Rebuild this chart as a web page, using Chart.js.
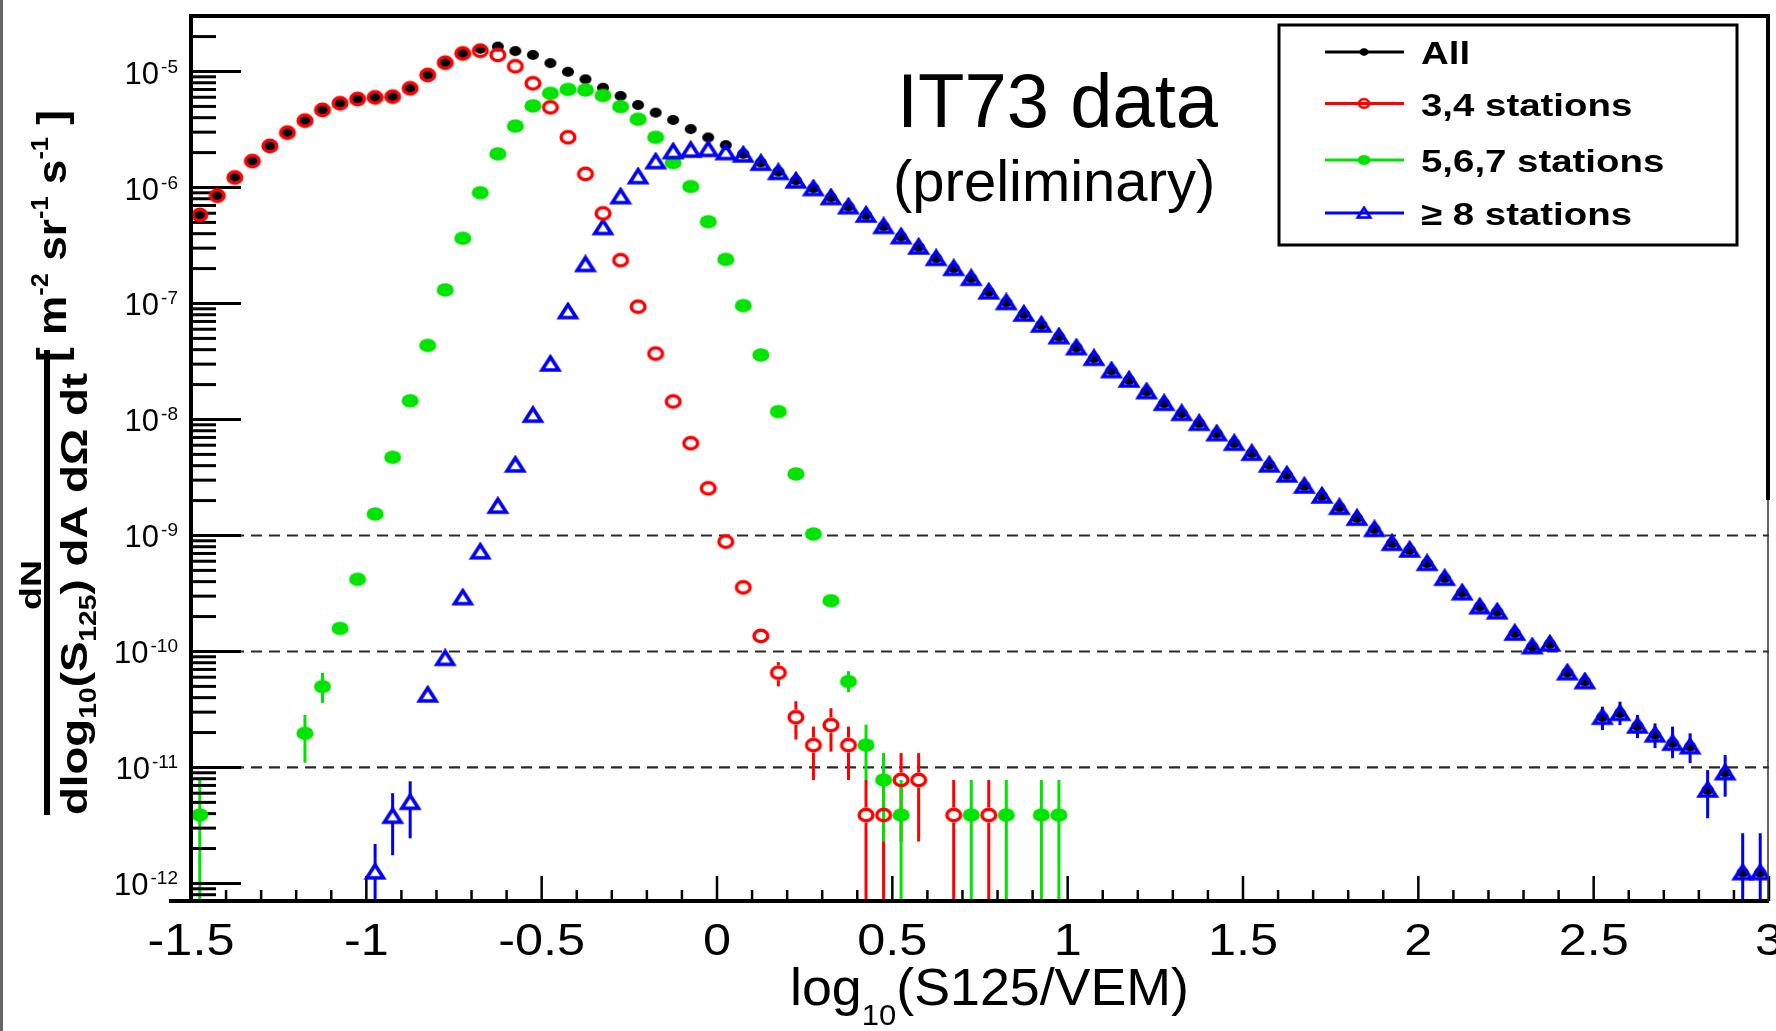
<!DOCTYPE html>
<html><head><meta charset="utf-8">
<script src="https://cdn.jsdelivr.net/npm/chart.js@4.4.0/dist/chart.umd.min.js"></script>
<style>html,body{margin:0;padding:0;background:#fff;}canvas{display:block;}</style>
</head><body>
<canvas id="c" width="1776" height="1031"></canvas>
<script>
// ---------- DATA ----------
const binCenters = [
-1.475,-1.425,-1.375,-1.325,-1.275,-1.225,-1.175,-1.125,-1.075,-1.025,
-0.975,-0.925,-0.875,-0.825,-0.775,-0.725,-0.675,-0.625,-0.575,-0.525,
-0.475,-0.425,-0.375,-0.325,-0.275,-0.225,-0.175,-0.125,-0.075,-0.025,
0.025,0.075,0.125,0.175,0.225,0.275,0.325,0.375,0.425,0.475,
0.525,0.575,0.625,0.675,0.725,0.775,0.825,0.875,0.925,0.975,
1.025,1.075,1.125,1.175,1.225,1.275,1.325,1.375,1.425,1.475,
1.525,1.575,1.625,1.675,1.725,1.775,1.825,1.875,1.925,1.975,
2.025,2.075,2.125,2.175,2.225,2.275,2.325,2.375,2.425,2.475,
2.525,2.575,2.625,2.675,2.725,2.775,2.825,2.875,2.925,2.975];

const allValues = [
5.8e-7,8.5e-7,1.22e-6,1.69e-6,2.28e-6,2.97e-6,3.77e-6,4.66e-6,5.32e-6,5.79e-6,
5.98e-6,6.07e-6,7.16e-6,9.33e-6,1.19e-5,1.43e-5,1.57e-5,1.64e-5,1.50e-5,1.39e-5,
1.18e-5,9.95e-6,8.57e-6,7.24e-6,6.15e-6,5.14e-6,4.42e-6,3.82e-6,3.19e-6,2.70e-6,
2.32e-6,1.95e-6,1.64e-6,1.37e-6,1.15e-6,9.84e-7,8.22e-7,6.84e-7,5.79e-7,4.62e-7,
3.77e-7,3.07e-7,2.45e-7,2.01e-7,1.65e-7,1.26e-7,1.02e-7,8.11e-8,6.53e-8,5.18e-8,
4.16e-8,3.37e-8,2.64e-8,2.19e-8,1.74e-8,1.38e-8,1.13e-8,9.27e-9,7.55e-9,6.24e-9,
5.12e-9,4.06e-9,3.33e-9,2.67e-9,2.19e-9,1.75e-9,1.41e-9,1.13e-9,8.57e-10,7.50e-10,
5.75e-10,4.28e-10,3.21e-10,2.43e-10,2.20e-10,1.44e-10,1.10e-10,1.16e-10,6.56e-11,5.50e-11,
2.71e-11,2.93e-11,2.28e-11,1.91e-11,1.62e-11,1.51e-11,6.40e-12,9.02e-12,1.24e-12,1.24e-12];

const sta34Values = [
5.8e-7,8.5e-7,1.22e-6,1.69e-6,2.28e-6,2.97e-6,3.77e-6,4.66e-6,5.32e-6,5.79e-6,
5.98e-6,6.07e-6,7.16e-6,9.33e-6,1.19e-5,1.43e-5,1.51e-5,1.39e-5,1.11e-5,7.91e-6,
4.91e-6,2.71e-6,1.31e-6,5.98e-7,2.36e-7,9.38e-8,3.70e-8,1.43e-8,6.24e-9,2.55e-9,
8.85e-10,3.57e-10,1.36e-10,6.56e-11,2.71e-11,1.56e-11,2.32e-11,1.56e-11,3.89e-12,3.89e-12,
7.80e-12,7.80e-12,null,3.89e-12,null,3.89e-12,null,null,null,null,
null,null,null,null,null,null,null,null,null,null,
null,null,null,null,null,null,null,null,null,null,
null,null,null,null,null,null,null,null,null,null,
null,null,null,null,null,null,null,null,null,null];

const sta567Values = [
3.89e-12,null,null,null,null,null,1.97e-11,4.98e-11,1.58e-10,4.19e-10,
1.53e-9,4.72e-9,1.45e-8,4.35e-8,1.31e-7,3.65e-7,9.02e-7,1.95e-6,3.39e-6,5.05e-6,
6.49e-6,7.01e-6,6.93e-6,6.21e-6,4.98e-6,3.88e-6,2.71e-6,1.64e-6,1.02e-6,5.07e-7,
2.40e-7,9.59e-8,3.60e-8,1.17e-8,3.39e-9,1.03e-9,2.74e-10,5.51e-11,1.56e-11,7.80e-12,
3.89e-12,null,null,null,3.89e-12,null,3.89e-12,null,3.89e-12,3.89e-12,
null,null,null,null,null,null,null,null,null,null,
null,null,null,null,null,null,null,null,null,null,
null,null,null,null,null,null,null,null,null,null,
null,null,null,null,null,null,null,null,null,null];

const sta8Values = [
null,null,null,null,null,null,null,null,null,null,
1.26e-12,3.80e-12,5.01e-12,4.22e-11,8.73e-11,2.91e-10,7.24e-10,1.79e-9,4.06e-9,1.09e-8,
3.01e-8,8.51e-8,2.17e-7,4.52e-7,8.34e-7,1.24e-6,1.67e-6,2.04e-6,2.10e-6,2.13e-6,
2.00e-6,1.91e-6,1.62e-6,1.35e-6,1.14e-6,9.80e-7,8.20e-7,6.83e-7,5.79e-7,4.62e-7,
3.77e-7,3.07e-7,2.45e-7,2.01e-7,1.65e-7,1.26e-7,1.02e-7,8.11e-8,6.53e-8,5.18e-8,
4.16e-8,3.37e-8,2.64e-8,2.19e-8,1.74e-8,1.38e-8,1.13e-8,9.27e-9,7.55e-9,6.24e-9,
5.12e-9,4.06e-9,3.33e-9,2.67e-9,2.19e-9,1.75e-9,1.41e-9,1.13e-9,8.57e-10,7.50e-10,
5.75e-10,4.28e-10,3.21e-10,2.43e-10,2.20e-10,1.44e-10,1.10e-10,1.16e-10,6.56e-11,5.50e-11,
2.71e-11,2.93e-11,2.28e-11,1.91e-11,1.62e-11,1.51e-11,6.40e-12,9.02e-12,1.24e-12,1.24e-12];

// error bars: [bin center, low (null = below axis), high]
const sta34Err = [
[0.175,5.0e-11,8.1e-11],[0.225,1.74e-11,3.72e-11],[0.275,7.8e-12,2.25e-11],[0.325,1.37e-11,3.24e-11],
[0.375,7.8e-12,2.25e-11],[0.425,null,7.8e-12],[0.475,null,7.8e-12],[0.525,2.3e-12,1.33e-11],
[0.575,2.3e-12,1.33e-11],[0.675,null,7.8e-12],[0.775,null,7.8e-12]];
const sta567Err = [
[-1.475,null,7.8e-12],[-1.175,1.10e-11,2.84e-11],[-1.125,3.60e-11,6.53e-11],[0.375,4.47e-11,6.76e-11],
[0.425,7.8e-12,2.34e-11],[0.475,2.3e-12,1.33e-11],[0.525,null,7.8e-12],[0.725,null,7.8e-12],
[0.825,null,7.8e-12],[0.925,null,7.8e-12],[0.975,null,7.8e-12]];
const sta8Err = [
[-0.975,null,2.19e-12],[-0.925,1.75e-12,6.0e-12],[-0.875,2.45e-12,7.6e-12],
[2.525,2.10e-11,3.34e-11],[2.575,2.32e-11,3.69e-11],[2.625,1.79e-11,2.84e-11],[2.675,1.47e-11,2.40e-11],
[2.725,1.20e-11,2.25e-11],[2.775,1.09e-11,1.97e-11],[2.825,3.65e-12,9.5e-12],[2.875,5.6e-12,1.28e-11],
[2.925,null,2.71e-12],[2.975,null,2.71e-12]];

const xTickValues = [-1.5,-1,-0.5,0,0.5,1,1.5,2,2.5,3];
const xTickLabels = ['-1.5','-1','-0.5','0','0.5','1','1.5','2','2.5','3'];
const yTickExponents = [-5,-6,-7,-8,-9,-10,-11,-12];
const refLines = [1e-9,1e-10,1e-11];
const legendLabels = ['All','3,4 stations','5,6,7 stations','\u2265 8 stations'];
const annotation1 = 'IT73 data';
const annotation2 = '(preliminary)';

// ---------- STYLE ----------
const FAM = '"Liberation Sans", Arial, Helvetica, sans-serif';
const RED = '#ff0000', GREEN = '#00e400', BLUE = '#0000f4', BLACK = '#000000';

function mk(w, h, draw) {
  const c = document.createElement('canvas'); c.width = w; c.height = h;
  draw(c.getContext('2d'), w / 2, h / 2); return c;
}
const mAll = mk(14, 12, (g, cx, cy) => { g.fillStyle = BLACK; g.beginPath(); g.ellipse(cx, cy, 6, 5, 0, 0, 2 * Math.PI); g.fill(); });
const mRed = mk(22, 18, (g, cx, cy) => { g.strokeStyle = RED; g.lineWidth = 3.4; g.beginPath(); g.ellipse(cx, cy, 6.9, 5.7, 0, 0, 2 * Math.PI); g.stroke(); });
const mGreen = mk(20, 16, (g, cx, cy) => { g.fillStyle = GREEN; g.beginPath(); g.ellipse(cx, cy, 8.6, 6.8, 0, 0, 2 * Math.PI); g.fill(); });
const mBlue = mk(24, 20, (g, cx, cy) => { g.strokeStyle = BLUE; g.lineWidth = 3.6; g.lineJoin = 'miter'; g.beginPath(); g.moveTo(cx, cy - 7); g.lineTo(cx + 8.3, cy + 6); g.lineTo(cx - 8.3, cy + 6); g.closePath(); g.stroke(); });

function pts(vals) { return binCenters.map((x, i) => ({ x: x, y: vals[i] })).filter(p => p.y !== null); }

function richWidth(ctx, segs) {
  let w = 0;
  for (const s of segs) { ctx.font = (s.bold ? 'bold ' : '') + s.size + 'px ' + FAM; w += ctx.measureText(s.t).width; }
  return w;
}
function drawRich(ctx, segs, x, y, o) {
  o = o || {};
  const w = richWidth(ctx, segs);
  let sx = o.stretch || 1;
  if (o.fit) sx = o.fit / w;
  ctx.save(); ctx.translate(x, y); if (o.rot) ctx.rotate(o.rot); ctx.scale(sx, 1);
  let cx = o.align === 'center' ? -w / 2 : (o.align === 'right' ? -w : 0);
  ctx.fillStyle = o.color || '#000'; ctx.textBaseline = 'alphabetic'; ctx.textAlign = 'left';
  for (const s of segs) {
    ctx.font = (s.bold ? 'bold ' : '') + s.size + 'px ' + FAM;
    ctx.fillText(s.t, cx, s.dy || 0);
    cx += ctx.measureText(s.t).width;
  }
  ctx.restore();
}
function line(ctx, x1, y1, x2, y2) { ctx.beginPath(); ctx.moveTo(x1, y1); ctx.lineTo(x2, y2); ctx.stroke(); }

const errSets = [
  { bars: sta34Err, vals: sta34Values, color: RED, gap: 7.5 },
  { bars: sta567Err, vals: sta567Values, color: GREEN, gap: 0 },
  { bars: sta8Err, vals: sta8Values, color: BLUE, gap: 6.5 }];

const decor = {
  id: 'decor',
  beforeDraw(chart) {
    const c = chart.ctx; c.save(); c.fillStyle = '#fff'; c.fillRect(0, 0, chart.width, chart.height); c.restore();
  },
  beforeDatasetsDraw(chart) {
    const ctx = chart.ctx, a = chart.chartArea, x = chart.scales.x, y = chart.scales.y;
    ctx.save();
    // dashed reference lines
    ctx.strokeStyle = '#2a2a2a'; ctx.lineWidth = 2.2; ctx.setLineDash([11, 7]);
    for (const v of refLines) { const py = y.getPixelForValue(v); line(ctx, a.left + 24, py, a.right, py); }
    ctx.setLineDash([]);
    // error bars
    ctx.save();
    ctx.beginPath(); ctx.rect(a.left, a.top, a.right - a.left, a.bottom - a.top); ctx.clip();
    ctx.lineWidth = 3;
    for (const s of errSets) {
      ctx.strokeStyle = s.color;
      for (const b of s.bars) {
        const idx = binCenters.indexOf(b[0]);
        const px = x.getPixelForValue(b[0]);
        const py = y.getPixelForValue(s.vals[idx]);
        const pLo = b[1] === null ? a.bottom + 5 : y.getPixelForValue(b[1]);
        const pHi = y.getPixelForValue(b[2]);
        if (pHi < py - s.gap) line(ctx, px, pHi, px, py - s.gap);
        if (pLo > py + s.gap) line(ctx, px, py + s.gap, px, pLo);
      }
    }
    ctx.restore();
    // y ticks (inside)
    ctx.strokeStyle = '#000'; ctx.lineWidth = 3;
    for (let d = -13; d <= -4; d++) {
      for (let m = 1; m <= 9; m++) {
        const v = m * Math.pow(10, d);
        if (v < y.min || v > y.max) continue;
        const py = y.getPixelForValue(v);
        line(ctx, a.left, py, a.left + (m === 1 ? 50 : 25), py);
      }
    }
    // x ticks (inside)
    ctx.lineWidth = 2.5;
    for (let i = -15; i <= 30; i++) {
      const px = x.getPixelForValue(i / 10);
      line(ctx, px, a.bottom, px, a.bottom - (i % 5 === 0 ? 25 : 11));
    }
    ctx.restore();
  },
  afterDatasetsDraw(chart) {
    const ctx = chart.ctx, a = chart.chartArea;
    ctx.save();
    ctx.strokeStyle = '#000'; ctx.lineWidth = 4;
    line(ctx, a.left, a.top, a.right, a.top);
    line(ctx, a.left, a.top - 2, a.left, a.bottom);
    line(ctx, a.left - 22, a.bottom, a.right, a.bottom);
    line(ctx, a.right - 1, a.top - 2, a.right - 1, 500);
    ctx.lineWidth = 1.5; ctx.strokeStyle = '#333';
    line(ctx, a.right - 1, 500, a.right - 1, a.bottom);
    ctx.restore();
  },
  afterDraw(chart) {
    const ctx = chart.ctx, a = chart.chartArea, x = chart.scales.x, y = chart.scales.y;
    ctx.save();
    // image border
    ctx.strokeStyle = '#666'; ctx.lineWidth = 3; line(ctx, 1.5, 0, 1.5, chart.height);
    // y tick labels
    for (const e of yTickExponents) {
      const py = y.getPixelForValue(Math.pow(10, e));
      ctx.font = '19px ' + FAM; const we = ctx.measureText(String(e)).width;
      ctx.font = '31px ' + FAM; const wb = ctx.measureText('10').width;
      const right = 178;
      drawRich(ctx, [{ t: '10', size: 31 }], right - we - 2 - wb, py + 12);
      drawRich(ctx, [{ t: String(e), size: 19 }], right - we, py + 1);
    }
    // x tick labels
    xTickValues.forEach((v, i) => {
      drawRich(ctx, [{ t: xTickLabels[i], size: 45 }], x.getPixelForValue(v), 955, { align: 'center', stretch: 1.12 });
    });
    // x title
    drawRich(ctx, [{ t: 'log', size: 52 }, { t: '10', size: 30, dy: 20 }, { t: '(S125/VEM)', size: 52 }], 790, 1005, { fit: 399 });
    // y title (rotated)
    const R = -Math.PI / 2;
    drawRich(ctx, [{ t: 'dN', size: 30, bold: true }], 41, 585, { rot: R, align: 'center', fit: 50 });
    ctx.fillStyle = '#000'; ctx.fillRect(44, 350, 6, 465);
    drawRich(ctx, [{ t: 'dlog', size: 37, bold: true }, { t: '10', size: 23, bold: true, dy: 9 }, { t: '(S', size: 37, bold: true },
      { t: '125', size: 23, bold: true, dy: 9 }, { t: ') dA d\u03A9 dt', size: 37, bold: true }], 87, 815, { rot: R, fit: 442 });
    drawRich(ctx, [{ t: '[ m', size: 40, bold: true }, { t: '-2', size: 23, bold: true, dy: -18 }, { t: ' sr', size: 40, bold: true },
      { t: '-1', size: 23, bold: true, dy: -18 }, { t: ' s', size: 40, bold: true }, { t: '-1', size: 23, bold: true, dy: -18 },
      { t: ' ]', size: 40, bold: true }], 66, 362, { rot: R, fit: 252 });
    // annotation
    drawRich(ctx, [{ t: annotation1, size: 76 }], 897, 127);
    drawRich(ctx, [{ t: annotation2, size: 58 }], 893, 201);
    // legend
    ctx.strokeStyle = '#000'; ctx.lineWidth = 3; ctx.strokeRect(1279, 25, 458, 220);
    const lineY = [52, 103.5, 160, 213];
    const cols = [BLACK, RED, GREEN, BLUE];
    const mks = [mAll, mRed, mGreen, mBlue];
    for (let i = 0; i < 4; i++) {
      ctx.strokeStyle = cols[i]; ctx.lineWidth = 3; line(ctx, 1325, lineY[i], 1404, lineY[i]);
      ctx.save(); ctx.translate(1364, lineY[i]); ctx.scale(0.75, 0.75);
      ctx.drawImage(mks[i], -mks[i].width / 2, -mks[i].height / 2);
      ctx.restore();
      drawRich(ctx, [{ t: legendLabels[i], size: 32, bold: true }], 1421, lineY[i] + 12, { stretch: 1.2 });
    }
    ctx.restore();
  }
};

new Chart(document.getElementById('c'), {
  type: 'scatter',
  data: {
    datasets: [
      { label: legendLabels[0], data: pts(allValues), pointStyle: mAll, radius: 6, order: 3, borderColor: BLACK, backgroundColor: BLACK },
      { label: legendLabels[1], data: pts(sta34Values), pointStyle: mRed, radius: 6, order: 0, borderColor: RED, backgroundColor: RED },
      { label: legendLabels[2], data: pts(sta567Values), pointStyle: mGreen, radius: 6, order: 2, borderColor: GREEN, backgroundColor: GREEN },
      { label: legendLabels[3], data: pts(sta8Values), pointStyle: mBlue, radius: 6, order: 1, borderColor: BLUE, backgroundColor: BLUE }
    ]
  },
  options: {
    responsive: false, animation: false, devicePixelRatio: 1,
    layout: { padding: { left: 191, right: 6, top: 16, bottom: 130 } },
    plugins: { legend: { display: false }, tooltip: { enabled: false } },
    events: [],
    scales: {
      x: { type: 'linear', min: -1.5, max: 3, display: false, bounds: 'data' },
      y: { type: 'logarithmic', min: 7.06e-13, max: 3.01e-5, display: false, bounds: 'data' }
    }
  },
  plugins: [decor]
});
</script>
</body></html>
